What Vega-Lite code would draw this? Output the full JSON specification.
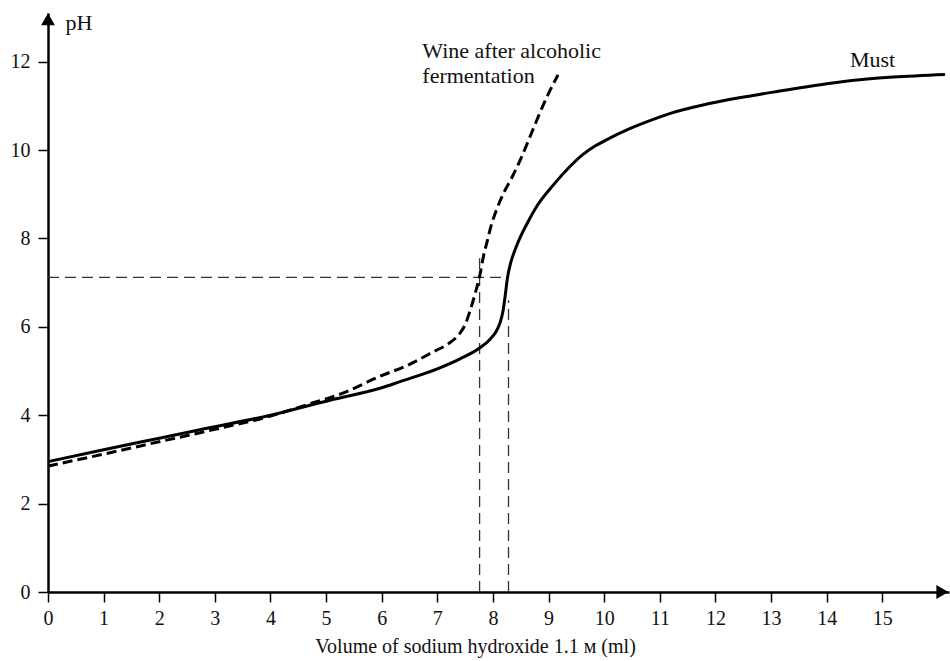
{
  "$schema": "https://vega.github.io/schema/vega-lite/v6.json",
  "width": 901,
  "height": 579,
  "autosize": {"type": "none"},
  "padding": {"left": 48, "top": 13, "right": 1, "bottom": 69},
  "background": "white",
  "config": {"view": {"stroke": null}, "font": "Liberation Serif"},
  "datasets": {
    "must": [
      {"x": 0, "y": 2.95}, {"x": 1, "y": 3.22}, {"x": 2, "y": 3.48}, {"x": 2.73, "y": 3.67},
      {"x": 4, "y": 4.0}, {"x": 5.07, "y": 4.34}, {"x": 6, "y": 4.62}, {"x": 6.33, "y": 4.76},
      {"x": 7, "y": 5.05}, {"x": 7.4, "y": 5.27}, {"x": 7.76, "y": 5.52}, {"x": 7.95, "y": 5.72},
      {"x": 8.06, "y": 5.9}, {"x": 8.13, "y": 6.1}, {"x": 8.18, "y": 6.35}, {"x": 8.22, "y": 6.7},
      {"x": 8.26, "y": 7.1}, {"x": 8.32, "y": 7.45}, {"x": 8.4, "y": 7.75}, {"x": 8.5, "y": 8.05},
      {"x": 8.62, "y": 8.35}, {"x": 8.8, "y": 8.75}, {"x": 9.08, "y": 9.2}, {"x": 9.35, "y": 9.58},
      {"x": 9.62, "y": 9.9}, {"x": 9.85, "y": 10.1}, {"x": 10.1, "y": 10.27}, {"x": 10.4, "y": 10.45},
      {"x": 10.75, "y": 10.63}, {"x": 11.19, "y": 10.83}, {"x": 11.85, "y": 11.04}, {"x": 13.04, "y": 11.31},
      {"x": 14.24, "y": 11.54}, {"x": 15.2, "y": 11.65}, {"x": 16.13, "y": 11.71}
    ],
    "wine": [
      {"x": 0, "y": 2.85}, {"x": 1, "y": 3.12}, {"x": 2, "y": 3.4}, {"x": 3, "y": 3.68},
      {"x": 4, "y": 3.98}, {"x": 4.71, "y": 4.26}, {"x": 5.3, "y": 4.5}, {"x": 5.97, "y": 4.88},
      {"x": 6.5, "y": 5.15}, {"x": 6.92, "y": 5.43}, {"x": 7.2, "y": 5.62}, {"x": 7.41, "y": 5.86},
      {"x": 7.5, "y": 6.05}, {"x": 7.58, "y": 6.33}, {"x": 7.68, "y": 6.75}, {"x": 7.76, "y": 7.14},
      {"x": 7.83, "y": 7.6}, {"x": 7.9, "y": 7.95}, {"x": 7.97, "y": 8.3}, {"x": 8.05, "y": 8.6},
      {"x": 8.19, "y": 9.02}, {"x": 8.35, "y": 9.4}, {"x": 8.49, "y": 9.77}, {"x": 8.65, "y": 10.25},
      {"x": 8.79, "y": 10.68}, {"x": 8.97, "y": 11.2}, {"x": 9.17, "y": 11.7}
    ],
    "refs": [
      {"x": 0, "y": 7.12, "x2": 8.28, "y2": 7.12},
      {"x": 7.76, "y": 0, "x2": 7.76, "y2": 7.55},
      {"x": 8.28, "y": 0, "x2": 8.28, "y2": 6.6}
    ],
    "arrowUp": [{"x": 0, "y": 12.96}],
    "arrowRight": [{"x": 16.08, "y": 0}],
    "labels": [
      {"x": 6.73, "y": 12.08, "label": "Wine after alcoholic\nfermentation"},
      {"x": 14.42, "y": 11.88, "label": "Must"}
    ]
  },
  "encoding": {
    "x": {
      "field": "x", "type": "quantitative",
      "scale": {"domain": [0, 16.2], "nice": false, "zero": false},
      "axis": {
        "values": [0, 1, 2, 3, 4, 5, 6, 7, 8, 9, 10, 11, 12, 13, 14, 15],
        "title": "Volume of sodium hydroxide 1.1 м (ml)",
        "grid": false, "domainColor": "black", "domainWidth": 2.5,
        "tickColor": "black", "tickWidth": 1.5, "tickSize": 10,
        "labelFont": "Liberation Serif", "labelFontSize": 20, "labelColor": "#111",
        "labelPadding": 6, "labelFlush": false, "labelOverlap": false,
        "titleFont": "Liberation Serif", "titleFontSize": 20, "titleFontWeight": "normal",
        "titleColor": "#111", "titleX": 427, "titleY": 60, "titleAlign": "center",
        "titleBaseline": "alphabetic"
      }
    },
    "y": {
      "field": "y", "type": "quantitative",
      "scale": {"domain": [0, 13.1], "nice": false, "zero": false},
      "axis": {
        "values": [0, 2, 4, 6, 8, 10, 12],
        "title": "pH",
        "grid": false, "domainColor": "black", "domainWidth": 2.5,
        "tickColor": "black", "tickWidth": 1.5, "tickSize": 10,
        "labelFont": "Liberation Serif", "labelFontSize": 20, "labelColor": "#111",
        "labelPadding": 8, "labelFlush": false, "labelOverlap": false,
        "titleFont": "Liberation Serif", "titleFontSize": 22, "titleFontWeight": "normal",
        "titleColor": "#111", "titleAngle": 0, "titleX": 17, "titleY": 16,
        "titleAlign": "left", "titleBaseline": "alphabetic"
      }
    }
  },
  "layer": [
    {
      "data": {"name": "refs"},
      "mark": {"type": "rule", "color": "#333", "strokeWidth": 1.3, "strokeDash": [11, 6]},
      "encoding": {
        "x2": {"field": "x2"},
        "y2": {"field": "y2"}
      }
    },
    {
      "data": {"name": "must"},
      "mark": {"type": "line", "color": "black", "strokeWidth": 3, "interpolate": "monotone"},
      "encoding": {}
    },
    {
      "data": {"name": "wine"},
      "mark": {"type": "line", "color": "black", "strokeWidth": 3, "strokeDash": [10, 5], "interpolate": "monotone"},
      "encoding": {}
    },
    {
      "data": {"name": "arrowUp"},
      "mark": {"type": "point", "shape": "triangle-up", "filled": true, "color": "black", "size": 190, "opacity": 1}
    },
    {
      "data": {"name": "arrowRight"},
      "mark": {"type": "point", "shape": "triangle-right", "filled": true, "color": "black", "size": 190, "opacity": 1}
    },
    {
      "data": {"name": "labels"},
      "mark": {"type": "text", "align": "left", "baseline": "alphabetic", "font": "Liberation Serif", "fontSize": 22, "color": "#111", "lineBreak": "\n", "lineHeight": 25},
      "encoding": {"text": {"field": "label"}}
    }
  ]
}
